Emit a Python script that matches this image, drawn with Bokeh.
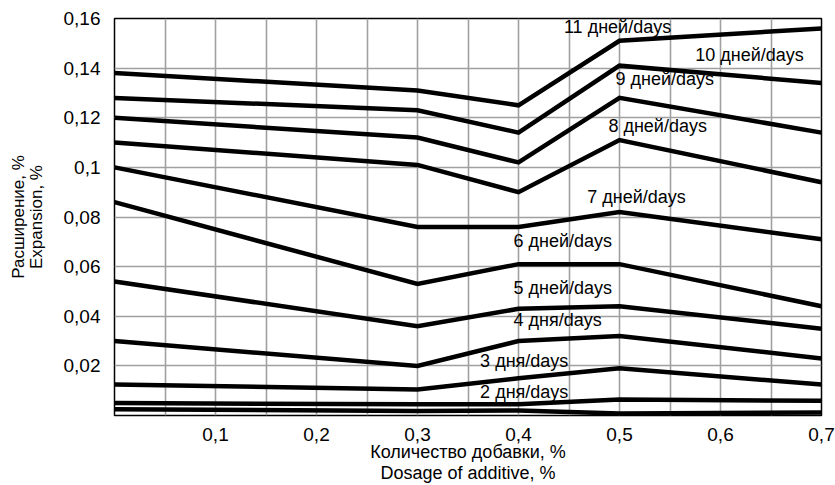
from bokeh.plotting import figure
from bokeh.models import FixedTicker, Range1d
from bokeh.core.properties import value
from bokeh.embed import file_html
from bokeh.resources import INLINE

# ---- data ----
dosage = [0.0, 0.3, 0.4, 0.5, 0.7]
days_11 = [0.138, 0.131, 0.125, 0.151, 0.156]
days_10 = [0.128, 0.123, 0.114, 0.141, 0.134]
days_9 = [0.120, 0.112, 0.102, 0.128, 0.114]
days_8 = [0.110, 0.101, 0.090, 0.111, 0.094]
days_7 = [0.100, 0.076, 0.076, 0.082, 0.071]
days_6 = [0.086, 0.053, 0.061, 0.061, 0.044]
days_5 = [0.054, 0.036, 0.043, 0.044, 0.035]
days_4 = [0.030, 0.020, 0.030, 0.032, 0.023]
days_3 = [0.0125, 0.0105, 0.015, 0.019, 0.0125]
days_2 = [0.005, 0.0045, 0.0045, 0.0064, 0.0059]
days_1 = [0.0025, 0.0018, 0.002, 0.0008, 0.0012]
series = [days_11, days_10, days_9, days_8, days_7, days_6,
          days_5, days_4, days_3, days_2, days_1]

label_text = ["11 дней/days", "10 дней/days", "9 дней/days", "8 дней/days",
              "7 дней/days", "6 дней/days", "5 дней/days", "4 дня/days",
              "3 дня/days", "2 дня/days"]
label_x = [0.445, 0.575, 0.496, 0.489, 0.468, 0.395, 0.395, 0.395, 0.362, 0.362]
label_y = [0.1564, 0.1452, 0.1355, 0.1167, 0.0882, 0.0702, 0.0513, 0.0385, 0.0221, 0.0096]

x_ticks = [0.1, 0.2, 0.3, 0.4, 0.5, 0.6, 0.7]
x_tick_labels = ["0,1", "0,2", "0,3", "0,4", "0,5", "0,6", "0,7"]
y_ticks = [0.02, 0.04, 0.06, 0.08, 0.1, 0.12, 0.14, 0.16]
y_tick_labels = ["0,02", "0,04", "0,06", "0,08", "0,1", "0,12", "0,14", "0,16"]
x_grid = [0.05, 0.1, 0.15, 0.2, 0.25, 0.3, 0.35, 0.4, 0.45, 0.5, 0.55, 0.6, 0.65]

x_title = "Количество добавки, %\nDosage of additive, %"
y_title = "Расширение, %\nExpansion, %"

FONT = "Liberation Sans"

p = figure(width=835, height=485, x_range=Range1d(0, 0.7), y_range=Range1d(0, 0.16),
           output_backend="svg", toolbar_location=None,
           min_border_left=114, min_border_right=14, min_border_top=18, min_border_bottom=68)

p.xaxis.ticker = FixedTicker(ticks=x_ticks)
p.yaxis.ticker = FixedTicker(ticks=y_ticks)
p.xaxis.major_label_overrides = {t: s for t, s in zip(x_ticks, x_tick_labels)}
p.yaxis.major_label_overrides = {t: s for t, s in zip(y_ticks, y_tick_labels)}
p.xgrid.ticker = FixedTicker(ticks=x_grid)
p.ygrid.ticker = FixedTicker(ticks=y_ticks)
p.grid.grid_line_color = "#a0a0a0"
p.grid.grid_line_width = 1.6

for ax in (p.xaxis, p.yaxis):
    ax.axis_line_color = None
    ax.major_tick_line_color = None
    ax.minor_tick_line_color = None
    ax.major_label_text_font = FONT
    ax.major_label_text_font_size = "19px"
    ax.major_label_text_color = "black"
    ax.axis_label_text_font = FONT
    ax.axis_label_text_font_style = "normal"
    ax.axis_label_text_color = "black"

p.xaxis.axis_label = x_title
p.yaxis.axis_label = y_title
p.xaxis.axis_label_text_font_size = "18px"
p.xaxis.axis_label_text_line_height = 1.05
p.yaxis.axis_label_text_font_size = "17px"
p.yaxis.axis_label_text_line_height = 0.9
p.xaxis.major_label_standoff = 6
p.yaxis.major_label_standoff = 8
p.xaxis.axis_label_standoff = -2
p.yaxis.axis_label_standoff = 15

p.outline_line_color = "black"
p.outline_line_width = 1.5
p.background_fill_color = "white"
p.border_fill_color = "white"

p.text(x=label_x, y=label_y, text=label_text, text_font=value(FONT),
       text_font_size="18px", text_align="left", text_baseline="middle",
       text_color="black")

for s in series:
    p.line(dosage, s, line_width=4.5, line_color="black", line_join="miter")

open("out.html", "w").write(file_html(p, INLINE))
